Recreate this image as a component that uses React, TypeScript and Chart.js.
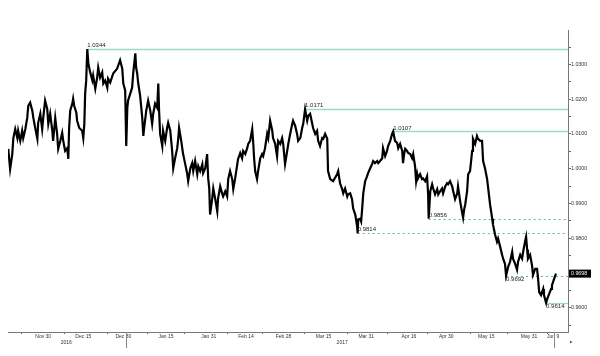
import React, { useEffect, useRef } from 'react';
import { Chart, registerables } from 'chart.js';
Chart.register(...registerables);

// day offsets counted from 2016-11-30
const dayOffsets = [
  -13.1, -12.4, -11.6, -11.2, -10.5, -9.7, -9.4, -8.6, -7.9, -7.5,
  -6.7, -6.0, -5.6, -4.9, -4.1, -3.7, -3.0, -2.2, -1.9, -1.1,
  -0.4, 0, 0.7, 1.5, 1.9, 2.6, 3.4, 3.7, 4.5, 5.2,
  5.6, 6.4, 7.1, 7.5, 8.2, 9.0, 9.4, 9.7, 10.1, 10.9,
  11.2, 11.6, 12.4, 12.7, 13.5, 14.6, 15.0, 15.4, 15.7, 16.1,
  16.5, 16.9, 17.6, 18.4, 18.7, 19.5, 20.2, 20.6, 21.3, 22.1,
  22.5, 23.2, 24.0, 24.3, 25.1, 26.2, 27.7, 28.8, 29.6, 30.0,
  30.7, 31.1, 31.5, 31.8, 32.6, 33.3, 33.7, 34.5, 34.8, 35.2,
  35.6, 36.3, 37.1, 37.5, 37.8, 38.6, 39.3, 40.1, 40.8, 41.2,
  41.9, 42.7, 43.1, 43.4, 43.8, 44.6, 44.9, 45.7, 46.4, 46.8,
  47.6, 48.3, 48.7, 49.4, 50.2, 50.6, 50.9, 51.7, 52.4, 53.2,
  53.9, 54.3, 55.1, 55.8, 56.2, 56.9, 57.7, 58.1, 58.8, 59.6,
  59.9, 60.7, 61.4, 61.8, 62.2, 62.5, 63.3, 63.7, 64.4, 65.2,
  65.5, 66.3, 67.0, 67.4, 68.2, 68.9, 69.3, 70.0, 70.8, 71.2,
  71.9, 72.7, 73.0, 73.8, 74.5, 74.9, 75.7, 76.4, 76.8, 77.5,
  78.3, 78.7, 79.0, 79.4, 80.1, 80.5, 81.3, 82.0, 82.4, 83.1,
  83.9, 84.3, 85.0, 85.8, 86.1, 86.9, 87.6, 88.0, 88.8, 89.5,
  89.9, 90.6, 91.4, 91.8, 92.5, 93.3, 93.6, 94.4, 95.1, 95.5,
  96.3, 97.0, 97.4, 98.1, 98.9, 99.3, 100.0, 100.7, 101.1, 101.9,
  102.6, 103.0, 103.7, 104.5, 104.9, 105.6, 106.4, 106.7, 107.5, 108.6,
  110.1, 110.5, 111.2, 112.0, 112.4, 113.1, 113.9, 114.2, 115.0, 115.7,
  116.1, 116.9, 117.6, 117.8, 118.0, 118.7, 119.1, 119.5, 119.9, 120.6,
  121.3, 121.7, 122.5, 123.2, 123.6, 124.3, 125.1, 125.5, 126.2, 127.0,
  127.3, 128.1, 128.8, 129.2, 130.0, 130.7, 131.1, 131.8, 132.6, 133.0,
  133.7, 134.5, 134.8, 135.2, 135.6, 136.3, 136.7, 137.5, 138.2, 138.6,
  139.3, 139.7, 140.1, 140.4, 141.2, 141.9, 142.3, 143.1, 143.8, 144.2,
  144.4, 145.0, 145.7, 146.1, 146.8, 147.6, 148.0, 148.7, 149.4, 149.8,
  150.6, 151.3, 151.7, 152.4, 153.2, 153.6, 154.3, 155.1, 155.4, 156.2,
  157.0, 157.3, 157.7, 158.1, 158.8, 159.2, 159.9, 160.7, 161.0, 161.8,
  162.5, 162.9, 163.7, 164.4, 164.8, 165.5, 166.3, 166.7, 167.4, 168.2,
  168.5, 169.3, 170.0, 170.4, 171.2, 171.9, 172.3, 173.0, 173.4, 174.2,
  174.9, 175.7, 176.0, 176.8, 177.5, 177.9, 178.7, 179.4, 179.8, 180.5,
  180.9, 181.3, 181.6, 182.4, 183.1, 183.5, 184.3, 185.0, 185.4, 185.8,
  186.5, 187.3, 187.6, 188.4, 188.8, 189.5, 190.3, 190.6, 191.4, 192.1,
];

const prices = [
  1.0057, 0.9999, 1.0042, 1.0088, 1.0114, 1.0088, 1.0109, 1.0080, 1.0109, 1.0088,
  1.0114, 1.0146, 1.0181, 1.0190, 1.0167, 1.0146, 1.0117, 1.0086, 1.0132, 1.0158,
  1.0114, 1.0146, 1.0196, 1.0172, 1.0129, 1.0158, 1.0109, 1.0080, 1.0146, 1.0100,
  1.0057, 1.0080, 1.0103, 1.0080, 1.0051, 1.0059, 1.0028, 1.0117, 1.0167, 1.0187,
  1.0201, 1.0181, 1.0161, 1.0138, 1.0117, 1.0109, 1.0088, 1.0129, 1.0216, 1.0254,
  1.0344, 1.0303, 1.0277, 1.0254, 1.0268, 1.0230, 1.0262, 1.0291, 1.0262, 1.0277,
  1.0245, 1.0254, 1.0233, 1.0259, 1.0248, 1.0274, 1.0288, 1.0312, 1.0288, 1.0245,
  1.0225, 1.0065, 1.0175, 1.0196, 1.0216, 1.0233, 1.0274, 1.0332, 1.0291, 1.0274,
  1.0245, 1.0210, 1.0146, 1.0094, 1.0117, 1.0167, 1.0196, 1.0167, 1.0129, 1.0158,
  1.0187, 1.0175, 1.0245, 1.0167, 1.0100, 1.0065, 1.0109, 1.0080, 1.0117, 1.0132,
  1.0109, 1.0051, 1.0001, 1.0030, 1.0059, 1.0088, 1.0117, 1.0080, 1.0042, 1.0013,
  0.9987, 0.9964, 1.0001, 1.0016, 0.9993, 1.0022, 0.9984, 1.0007, 0.9993, 1.0013,
  0.9987, 1.0001, 1.0042, 0.9972, 0.9943, 0.9868, 0.9914, 0.9943, 0.9914, 0.9877,
  0.9914, 0.9949, 0.9929, 0.9920, 0.9935, 0.9920, 0.9970, 0.9993, 0.9970, 0.9941,
  0.9972, 1.0013, 1.0028, 1.0045, 1.0030, 1.0051, 1.0042, 1.0059, 1.0071, 1.0080,
  1.0114, 1.0071, 1.0030, 0.9993, 0.9970, 0.9993, 1.0030, 1.0042, 1.0036, 1.0059,
  1.0100, 1.0088, 1.0138, 1.0109, 1.0088, 1.0071, 1.0036, 1.0080, 1.0071, 1.0088,
  1.0071, 1.0013, 1.0051, 1.0071, 1.0100, 1.0129, 1.0138, 1.0123, 1.0100, 1.0080,
  1.0088, 1.0117, 1.0129, 1.0171, 1.0138, 1.0152, 1.0158, 1.0132, 1.0117, 1.0100,
  1.0109, 1.0080, 1.0065, 1.0088, 1.0086, 1.0100, 1.0086, 0.9993, 0.9970, 0.9964,
  0.9984, 0.9993, 0.9958, 0.9941, 0.9929, 0.9943, 0.9920, 0.9926, 0.9929, 0.9912,
  0.9886, 0.9868, 0.9833, 0.9814, 0.9854, 0.9856, 0.9848, 0.9886, 0.9929, 0.9964,
  0.9978, 0.9987, 1.0001, 1.0013, 1.0022, 1.0016, 1.0022, 1.0016, 1.0022, 1.0030,
  1.0059, 1.0036, 1.0051, 1.0065, 1.0080, 1.0100, 1.0107, 1.0080, 1.0074, 1.0059,
  1.0071, 1.0051, 1.0016, 1.0042, 1.0057, 1.0051, 1.0045, 1.0042, 1.0030, 1.0042,
  1.0007, 0.9964, 0.9984, 0.9972, 0.9984, 0.9970, 0.9972, 0.9964, 0.9978, 0.9926,
  0.9856, 0.9935, 0.9955, 0.9943, 0.9926, 0.9941, 0.9926, 0.9935, 0.9943, 0.9929,
  0.9949, 0.9958, 0.9955, 0.9964, 0.9949, 0.9935, 0.9912, 0.9929, 0.9949, 0.9906,
  0.9871, 0.9859, 0.9883, 0.9897, 0.9935, 0.9984, 0.9993, 1.0051, 1.0086, 1.0071,
  1.0094, 1.0086, 1.0080, 1.0080, 1.0022, 1.0001, 0.9970, 0.9943, 0.9897, 0.9856,
  0.9839, 0.9810, 0.9790, 0.9799, 0.9775, 0.9752, 0.9741, 0.9726, 0.9692, 0.9718,
  0.9732, 0.9761, 0.9741, 0.9726, 0.9709, 0.9732, 0.9752, 0.9741, 0.9761, 0.9790,
  0.9804, 0.9767, 0.9741, 0.9752, 0.9723, 0.9694, 0.9712, 0.9712, 0.9683, 0.9645,
  0.9636, 0.9654, 0.9636, 0.9614, 0.9625, 0.9639, 0.9654, 0.9665, 0.9683, 0.9698,
];

const xLabelDays = [0, 15, 30, 46, 62, 76, 90, 105, 121, 137, 151, 166, 182, 191];
const xLabelTexts = ['Nov 30', 'Dec 15', 'Dec 30', 'Jan 15', 'Jan 31', 'Feb 14', 'Feb 28', 'Mar 15', 'Mar 31', 'Apr 16', 'Apr 30', 'May 15', 'May 31', 'Jun 9'];
const xTickDays = [-8, 8, 24, 39, 53, 69, 82, 98, 114, 129, 144, 160, 174, 189];
const yearDays = [8.6, 112];
const yearTexts = ['2016', '2017'];
const markerDays = [31, 191.4];

const yMajorTicks = [0.96, 0.97, 0.98, 0.99, 1.0, 1.01, 1.02, 1.03];
const yMinorTicks = [0.955, 0.965, 0.975, 0.985, 0.995, 1.005, 1.015, 1.025, 1.035];

const levelValues = [1.0344, 1.0171, 1.0107, 0.9856, 0.9814, 0.9692, 0.9614];
const levelDays = [16.5, 98.1, 131.1, 144.4, 117.8, 173.4, 188.4];
const levelDashed = [false, false, false, true, true, true, false];
const levelLabelBelow = [false, false, false, false, false, true, true];
const lastPrice = 0.9698;

const FONT = "'Liberation Sans', Arial, sans-serif";

const overlayPlugin = {
  id: 'overlay',
  beforeDatasetsDraw(chart: any) {
    const { ctx, chartArea, scales } = chart;
    const x = scales.x, y = scales.y;
    ctx.save();
    levelValues.forEach((v, i) => {
      const py = Math.round(y.getPixelForValue(v)) + 0.5;
      const px = x.getPixelForValue(levelDays[i]);
      ctx.strokeStyle = levelDashed[i] ? '#4fbf8c' : '#9fd9bf';
      ctx.lineWidth = levelDashed[i] ? 1 : 1.3;
      ctx.setLineDash(levelDashed[i] ? [2, 3] : []);
      ctx.beginPath();
      ctx.moveTo(px, py);
      ctx.lineTo(chartArea.right, py);
      ctx.stroke();
    });
    ctx.restore();
  },
  afterDatasetsDraw(chart: any) {
    const { ctx, scales } = chart;
    const x = scales.x, y = scales.y;
    ctx.save();
    ctx.font = `6px ${FONT}`;
    ctx.fillStyle = '#222';
    ctx.textAlign = 'left';
    levelValues.forEach((v, i) => {
      const py = y.getPixelForValue(v);
      const px = x.getPixelForValue(levelDays[i]);
      if (levelLabelBelow[i]) {
        ctx.textBaseline = 'top';
        ctx.fillText(v.toFixed(4), px, py + 1);
      } else {
        ctx.textBaseline = 'bottom';
        ctx.fillText(v.toFixed(4), px, py - 0.5);
      }
    });
    ctx.restore();
  },
  afterDraw(chart: any) {
    const { ctx, chartArea, scales } = chart;
    const x = scales.x, y = scales.y;
    ctx.save();
    ctx.font = `5px ${FONT}`;
    ctx.fillStyle = '#333';
    ctx.textAlign = 'center';
    ctx.textBaseline = 'middle';
    yearDays.forEach((d, i) => {
      ctx.fillText(yearTexts[i], x.getPixelForValue(d), chartArea.bottom + 11);
    });
    ctx.strokeStyle = '#888';
    ctx.lineWidth = 1;
    markerDays.forEach((d) => {
      const px = Math.round(x.getPixelForValue(d)) + 0.5;
      ctx.beginPath();
      ctx.moveTo(px, chartArea.bottom);
      ctx.lineTo(px, chartArea.bottom + 16);
      ctx.stroke();
    });
    ctx.fillStyle = '#555';
    ctx.beginPath();
    const ax = chartArea.right + 2, ay = chartArea.bottom + 10;
    ctx.moveTo(ax, ay - 1.5);
    ctx.lineTo(ax + 2.5, ay);
    ctx.lineTo(ax, ay + 1.5);
    ctx.closePath();
    ctx.fill();
    const by = y.getPixelForValue(lastPrice);
    ctx.fillStyle = '#000';
    ctx.fillRect(chartArea.right + 1, by - 4, 22, 8);
    ctx.fillStyle = '#fff';
    ctx.font = `5.3px ${FONT}`;
    ctx.textAlign = 'left';
    ctx.textBaseline = 'middle';
    ctx.fillText(lastPrice.toFixed(4), chartArea.right + 3, by + 0.3);
    ctx.restore();
  },
};

export default function App() {
  const ref = useRef<HTMLCanvasElement>(null);
  useEffect(() => {
    if (!ref.current) return;
    const points = dayOffsets.map((d, i) => ({ x: d, y: prices[i] }));
    const chart = new Chart(ref.current, {
      type: 'line',
      data: {
        datasets: [
          {
            data: points,
            borderColor: '#000',
            borderWidth: 2.2,
            pointRadius: 0,
            tension: 0,
            fill: false,
          },
        ],
      },
      options: {
        animation: false,
        responsive: false,
        layout: { padding: { top: 22, left: 0, right: 0, bottom: 0 } },
        plugins: { legend: { display: false }, tooltip: { enabled: false } },
        scales: {
          x: {
            type: 'linear',
            min: -13.2,
            max: 196.6,
            afterBuildTicks: (s: any) => {
              const vals = [...xLabelDays, ...xTickDays].sort((a, b) => a - b);
              s.ticks = vals.map((v) => ({ value: v }));
            },
            afterFit: (s: any) => {
              s.height = 24;
            },
            ticks: {
              autoSkip: false,
              maxRotation: 0,
              minRotation: 0,
              padding: 0,
              color: '#333',
              font: { family: FONT, size: 5 },
              callback: (v: any) => {
                const i = xLabelDays.indexOf(Number(v));
                return i >= 0 ? xLabelTexts[i] : '';
              },
            },
            grid: {
              drawOnChartArea: false,
              tickLength: 2,
              tickColor: (c: any) =>
                c.tick && xTickDays.includes(c.tick.value) ? '#666' : 'rgba(0,0,0,0)',
            },
            border: { color: '#777', width: 1 },
          },
          y: {
            position: 'right',
            min: 0.953,
            max: 1.0399,
            afterBuildTicks: (s: any) => {
              const vals = [...yMajorTicks, ...yMinorTicks].sort((a, b) => a - b);
              s.ticks = vals.map((v) => ({ value: v }));
            },
            afterFit: (s: any) => {
              s.width = 24;
            },
            ticks: {
              autoSkip: false,
              padding: 0,
              color: '#333',
              font: { family: FONT, size: 5.3 },
              callback: (v: any) =>
                yMajorTicks.some((t) => Math.abs(t - Number(v)) < 1e-6) ? Number(v).toFixed(4) : '',
            },
            grid: { drawOnChartArea: false, tickLength: 3, tickColor: '#666' },
            border: { color: '#777', width: 1 },
          },
        },
      },
      plugins: [overlayPlugin],
    });
    return () => chart.destroy();
  }, []);
  return (
    <div style={{ width: 584, height: 348 }}>
      <canvas ref={ref} width={584} height={348} style={{ display: 'block' }} />
    </div>
  );
}
